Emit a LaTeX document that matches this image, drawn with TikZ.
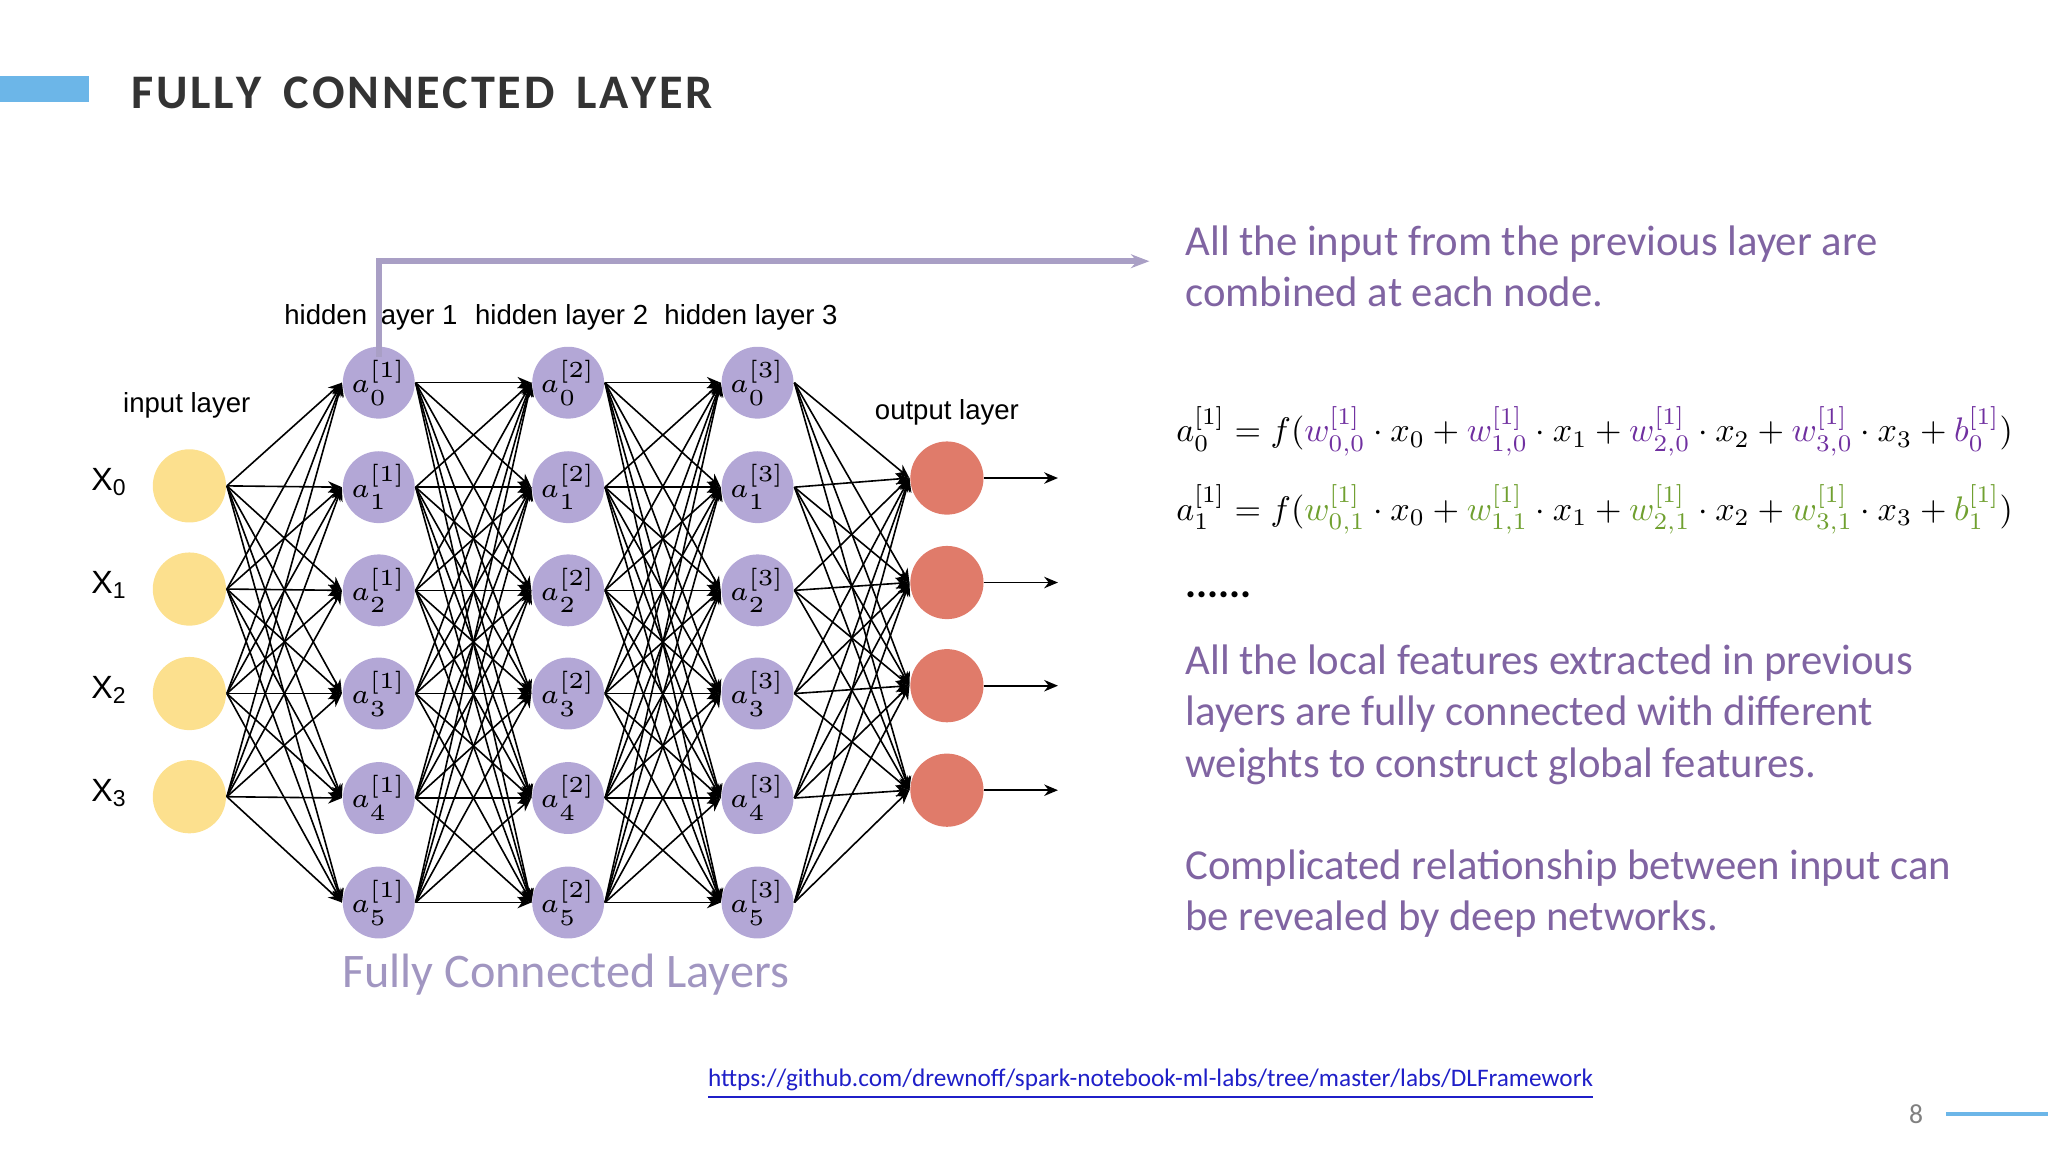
\documentclass[tikz,border=0pt]{standalone}
\usepackage{fontspec}
\usepackage{graphicx}
\setmainfont{Carlito}
\newfontfamily\arialf{Liberation Sans}
\usetikzlibrary{arrows.meta}
\definecolor{ttl}{HTML}{333333}
\definecolor{bar}{HTML}{6CB6E8}
\definecolor{pur}{HTML}{8064A2}
\definecolor{wpur}{HTML}{7030A0}
\definecolor{wgrn}{HTML}{70A030}
\definecolor{inp}{HTML}{FCE08E}
\definecolor{hid}{HTML}{B3A7D6}
\definecolor{outc}{HTML}{E07B6A}
\definecolor{lnk}{HTML}{1F1FC8}
\begin{document}
\begin{tikzpicture}[x=0.01cm,y=-0.01cm,
  inn/.style={circle,fill=inp,minimum size=0.56cm,inner sep=0},
  hn/.style={circle,fill=hid,minimum size=0.55cm,inner sep=0,font=\fontsize{6}{7}\selectfont},
  on/.style={circle,fill=outc,minimum size=0.56cm,inner sep=0},
  ed/.style={line width=0.35pt,-{Stealth[length=3pt,width=2.5pt]}},
  lay/.style={font=\arialf\fontsize{6}{7}\selectfont},
  rt/.style={text=pur,font=\fontsize{9.3}{11.2}\selectfont,anchor=north west,align=left,inner sep=0},
  eq/.style={anchor=west,inner sep=0}]
\useasboundingbox (0,0) rectangle (1568,882);
\fill[bar] (0,58) rectangle (68,78);
\node[anchor=west,text=ttl,font=\bfseries\fontsize{10.5}{12}\selectfont,inner sep=0] (title) at (100,71) {F\kern.6pt U\kern.6pt L\kern.6pt L\kern.6pt Y\ \ C\kern.6pt O\kern.6pt N\kern.6pt N\kern.6pt E\kern.6pt C\kern.6pt T\kern.6pt E\kern.6pt D\ \ L\kern.6pt A\kern.6pt Y\kern.6pt E\kern.6pt R};
% nodes
\foreach \i/\y in {0/372,1/451,2/531,3/610}{
  \node[inn] (i\i) at (145,\y) {};
  \node[lay,font=\arialf\fontsize{7}{8}\selectfont] (xl\i) at (84,\y-3) {X\textsubscript{\i}};
}
\foreach \l/\x in {1/290,2/435,3/580}{
  \foreach \j/\y in {0/293,1/373,2/452,3/531,4/611,5/691}{
    \node[hn] (h\l\j) at (\x,\y) {$a^{[\l]}_{\j}$};
  }
}
\foreach \i/\y in {0/366,1/446,2/525,3/605}{
  \node[on] (o\i) at (725,\y) {};
  \coordinate (e\i) at (810,\y);
  \draw[ed] (o\i) -- (e\i);
}
\foreach \a in {0,...,3}{\foreach \b in {0,...,5}{\draw[ed] (i\a.east) -- (h1\b.west);}}
\foreach \a in {0,...,5}{\foreach \b in {0,...,5}{\draw[ed] (h1\a.east) -- (h2\b.west);\draw[ed] (h2\a.east) -- (h3\b.west);}}
\foreach \a in {0,...,5}{\foreach \b in {0,...,3}{\draw[ed] (h3\a.east) -- (o\b.west);}}
\node[lay] (l0) at (143,310) {input layer};
\node[lay] (l1) at (284,243) {hidden layer 1};
\node[lay] (l2) at (430,243) {hidden layer 2};
\node[lay] (l3) at (575,243) {hidden layer 3};
\node[lay] (l4) at (725,316) {output layer};
\coordinate (c1) at (290,200);
\coordinate (c2) at (880,200);
\draw[color=hid!80!gray,line width=1.2pt,-{Stealth[length=4pt]}] (h10.center)++(0,-20) coordinate (c0) -- (c1) -- (c2);
\node[text=hid!90!black,font=\fontsize{10.5}{12}\selectfont] (fcl) at (433,746) {Fully Connected Layers};
\node[rt] (t1) at (907,172) {All the input from the previous layer are\\combined at each node.};
\node[eq] (eq1) at (900,330) {\resizebox{6.4cm}{!}{$a^{[1]}_0=f(\textcolor{wpur}{w^{[1]}_{0,0}}\cdot x_0+\textcolor{wpur}{w^{[1]}_{1,0}}\cdot x_1+\textcolor{wpur}{w^{[1]}_{2,0}}\cdot x_2+\textcolor{wpur}{w^{[1]}_{3,0}}\cdot x_3+\textcolor{wpur}{b^{[1]}_0})$}};
\node[eq] (eq2) at (900,390) {\resizebox{6.4cm}{!}{$a^{[1]}_1=f(\textcolor{wgrn}{w^{[1]}_{0,1}}\cdot x_0+\textcolor{wgrn}{w^{[1]}_{1,1}}\cdot x_1+\textcolor{wgrn}{w^{[1]}_{2,1}}\cdot x_2+\textcolor{wgrn}{w^{[1]}_{3,1}}\cdot x_3+\textcolor{wgrn}{b^{[1]}_1})$}};
\node[anchor=west,font=\fontsize{9}{10}\selectfont,inner sep=0] (dots) at (907,455) {\textbf{......}};
\node[rt] (t2) at (907,493) {All the local features extracted in previous\\layers are fully connected with different\\weights to construct global features.};
\node[rt] (t3) at (907,650) {Complicated relationship between input can\\be revealed by deep networks.};
\node[text=lnk,font=\fontsize{5.5}{6}\selectfont] (link) at (881,830) {\underline{https://github.com/drewnoff/spark-notebook-ml-labs/tree/master/labs/DLFramework}};
\node[text=gray,font=\fontsize{6}{7}\selectfont] (pg) at (1467,853) {8};
\draw[bar,line width=1pt] (1490,853) -- (1568,853);
\end{tikzpicture}
\end{document}
